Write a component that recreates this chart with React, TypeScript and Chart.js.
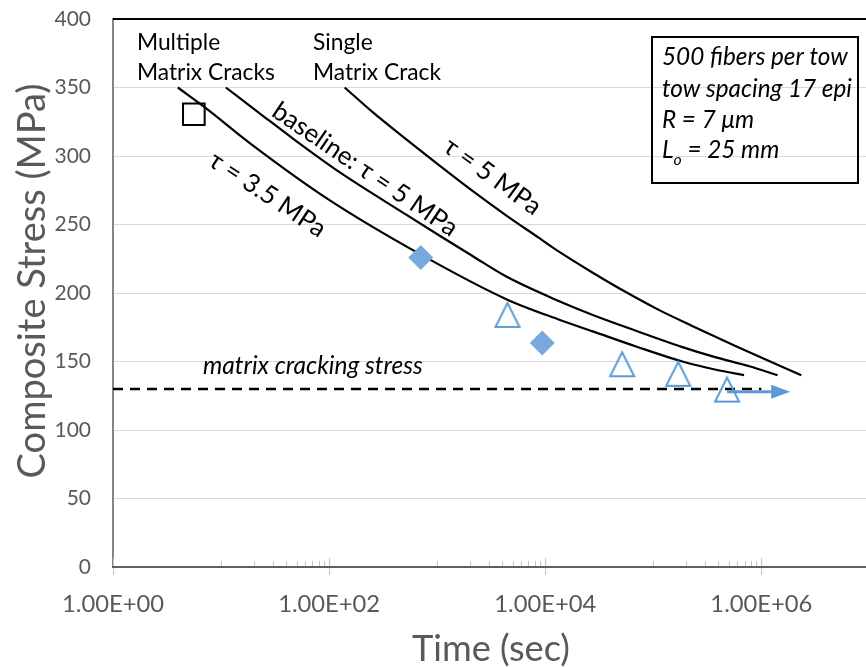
import React, { useEffect, useRef } from "react";
import { Chart, registerables } from "chart.js";

Chart.register(...registerables);

const FAMILY = "Lato, 'Open Sans', 'DejaVu Sans', sans-serif";
const TEXT_GRAY = "#595959";
const BLUE = "#5B9BD5";
const BLUE_FILL = "#79A9DC";

// ---------- data (time in s, stress in MPa) ----------
const multiTau35Time = [3.98, 7.08, 19.5, 100, 708, 4365, 13490, 27540, 69180, 186200, 380200, 691800];
const multiTau35Stress = [350, 335.5, 308, 268, 228, 195.5, 180.5, 172, 161, 150, 144, 140];

const baselineTime = [11.07, 22.9, 45.7, 125.9, 521, 1047, 2123, 4365, 13490, 27540, 56230, 186200, 380200, 776200, 1413000];
const baselineStress = [350, 331, 313, 288, 257, 242, 227, 212, 194, 184, 175, 160.5, 153, 146.5, 140];

const singleTime = [139.3, 252.9, 521, 1052, 2123, 4375, 8831, 13520, 27290, 56230, 113500, 229100, 588800, 2344000];
const singleStress = [350, 332, 312, 293, 274.5, 256.5, 240, 230, 215, 200.5, 187.5, 176, 161, 140];

const squareTime = [5.6];
const squareStress = [330.5];

const diamondTime = [705, 9380];
const diamondStress = [226, 163.5];

const triangleTime = [4470, 51500, 170000, 481000];
const triangleStress = [184, 148, 141, 129.5];

const arrowTime = [481000, 1260000];
const arrowStress = [128, 128];

const crackingTime = [1, 1000000];
const crackingStress = [130, 130];

// ---------- axes ----------
const X_MIN = 1;
const X_MAX = 9.3e6;
const X_MAJOR = [1, 100, 10000, 1000000];
const X_MAJOR_LABELS = ["1.00E+00", "1.00E+02", "1.00E+04", "1.00E+06"];
const X_MINOR_BASES = [10, 1000, 100000];
const X_MINOR_STEPS = [1, 2, 3, 4, 5, 6, 7, 8, 9];
const Y_MIN = 0;
const Y_MAX = 400;
const Y_STEP = 50;

const X_TITLE = "Time (sec)";
const Y_TITLE = "Composite Stress (MPa)";

const NOTE_LINES = ["500 fibers per tow", "tow spacing 17 epi", "R = 7 μm"];

export default function App() {
  const ref = useRef<HTMLCanvasElement>(null);

  useEffect(() => {
    document.body.style.margin = "0";
    const canvas = ref.current!;
    const mctx = canvas.getContext("2d")!;
    const fit = (text: string, width: number, style = "") => {
      mctx.font = `${style} 100px ${FAMILY}`.trim();
      return (100 * width) / mctx.measureText(text).width;
    };
    const S = {
      yTick: fit("400", 36.5),
      xTick: fit("1.00E+02", 102),
      yTitle: fit(Y_TITLE, 395),
      xTitle: fit(X_TITLE, 158),
      note: fit("Matrix Cracks", 138),
      rot: fit("baseline: τ = 5 MPa", 218),
      box: fit("tow spacing 17 epi", 190, "italic"),
      crack: fit("matrix cracking stress", 220, "italic"),
    };

    const tri = document.createElement("canvas");
    tri.width = 30;
    tri.height = 30;
    const tc = tri.getContext("2d")!;
    tc.strokeStyle = BLUE;
    tc.lineWidth = 2;
    tc.beginPath();
    tc.moveTo(15, 3);
    tc.lineTo(27, 27);
    tc.lineTo(3, 27);
    tc.closePath();
    tc.stroke();

    const pts = (xs: number[], ys: number[]) => xs.map((x, i) => ({ x, y: ys[i] }));

    const curve = (label: string, xs: number[], ys: number[]) => ({
      label,
      data: pts(xs, ys),
      showLine: true,
      borderColor: "#000",
      borderWidth: 2.2,
      pointRadius: 0,
      cubicInterpolationMode: "monotone" as const,
      fill: false,
    });

    const noPad = (s: any) => {
      s.paddingTop = 0;
      s.paddingBottom = 0;
      s.paddingLeft = 0;
      s.paddingRight = 0;
    };

    const overlay = {
      id: "overlay",
      afterDatasetsDraw(chart: any) {
        const { ctx } = chart;
        const meta = chart.getDatasetMeta(3);
        const last = meta.data[meta.data.length - 1];
        if (last) {
          ctx.save();
          ctx.fillStyle = BLUE;
          ctx.beginPath();
          ctx.moveTo(last.x - 1, last.y - 7);
          ctx.lineTo(last.x + 18, last.y);
          ctx.lineTo(last.x - 1, last.y + 7);
          ctx.closePath();
          ctx.fill();
          ctx.restore();
        }
      },
      afterDraw(chart: any) {
        const { ctx, chartArea: ca, scales } = chart;
        const xs = scales.x;
        ctx.save();
        // top border
        ctx.strokeStyle = "#000";
        ctx.lineWidth = 2;
        ctx.beginPath();
        ctx.moveTo(ca.left, ca.top);
        ctx.lineTo(ca.right, ca.top);
        ctx.stroke();

        // x ticks
        ctx.strokeStyle = "#C4C4C4";
        ctx.lineWidth = 1;
        X_MAJOR.forEach((v) => {
          const px = Math.round(xs.getPixelForValue(v)) + 0.5;
          ctx.beginPath();
          ctx.moveTo(px, ca.bottom - 9);
          ctx.lineTo(px, ca.bottom + 8);
          ctx.stroke();
        });
        X_MINOR_BASES.forEach((b) =>
          X_MINOR_STEPS.forEach((k) => {
            const px = Math.round(xs.getPixelForValue(b * k)) + 0.5;
            ctx.beginPath();
            ctx.moveTo(px, ca.bottom - 6);
            ctx.lineTo(px, ca.bottom);
            ctx.stroke();
          })
        );
        // x axis line
        ctx.strokeStyle = "#606060";
        ctx.lineWidth = 2;
        ctx.beginPath();
        ctx.moveTo(ca.left - 1, ca.bottom);
        ctx.lineTo(ca.right, ca.bottom);
        ctx.stroke();

        // x tick labels
        ctx.fillStyle = TEXT_GRAY;
        ctx.font = `${S.xTick}px ${FAMILY}`;
        ctx.textAlign = "center";
        ctx.textBaseline = "alphabetic";
        X_MAJOR.forEach((v, i) => {
          ctx.fillText(X_MAJOR_LABELS[i], xs.getPixelForValue(v), 612);
        });

        // axis titles
        ctx.font = `${S.xTitle}px ${FAMILY}`;
        ctx.fillText(X_TITLE, 491, 661);
        ctx.save();
        ctx.translate(45, 281);
        ctx.rotate(-Math.PI / 2);
        ctx.font = `${S.yTitle}px ${FAMILY}`;
        ctx.fillText(Y_TITLE, 0, 0);
        ctx.restore();

        // annotations
        ctx.fillStyle = "#000";
        ctx.textAlign = "left";
        ctx.font = `${S.note}px ${FAMILY}`;
        ctx.fillText("Multiple", 137, 50);
        ctx.fillText("Matrix Cracks", 137, 80);
        ctx.fillText("Single", 313, 50);
        ctx.fillText("Matrix Crack", 313, 80);

        const rotText = (t: string, x: number, y: number, deg: number) => {
          ctx.save();
          ctx.translate(x, y);
          ctx.rotate((deg * Math.PI) / 180);
          ctx.font = `${S.rot}px ${FAMILY}`;
          ctx.textAlign = "center";
          ctx.textBaseline = "middle";
          ctx.fillText(t, 0, 0);
          ctx.restore();
        };
        rotText("τ = 3.5 MPa", 267.5, 194.5, 33.3);
        rotText("baseline: τ = 5 MPa", 365, 169.5, 34.1);
        rotText("τ = 5 MPa", 492.5, 176.5, 35.8);

        ctx.font = `italic ${S.crack}px ${FAMILY}`;
        ctx.fillText("matrix cracking stress", 203, 374);

        // note box
        ctx.strokeStyle = "#000";
        ctx.lineWidth = 2;
        ctx.strokeRect(652, 37, 206, 146);
        ctx.font = `italic ${S.box}px ${FAMILY}`;
        const baselines = [65, 97, 128];
        NOTE_LINES.forEach((t, i) => ctx.fillText(t, 662, baselines[i]));
        ctx.fillText("L", 662, 158);
        const lw = ctx.measureText("L").width;
        ctx.font = `italic ${S.box * 0.65}px ${FAMILY}`;
        ctx.fillText("o", 662 + lw, 165);
        const ow = ctx.measureText("o").width;
        ctx.font = `italic ${S.box}px ${FAMILY}`;
        ctx.fillText(" = 25 mm", 662 + lw + ow, 158);
        ctx.restore();
      },
    };

    const chart = new Chart(canvas, {
      type: "line",
      data: {
        datasets: [
          {
            label: "square",
            data: pts(squareTime, squareStress),
            showLine: false,
            pointStyle: "rect",
            pointRadius: 15.3,
            borderColor: "#000",
            borderWidth: 2,
            backgroundColor: "rgba(0,0,0,0)",
          },
          {
            label: "diamonds",
            data: pts(diamondTime, diamondStress),
            showLine: false,
            pointStyle: "rectRot",
            pointRadius: 12.5,
            borderWidth: 0,
            borderColor: BLUE_FILL,
            backgroundColor: BLUE_FILL,
          },
          {
            label: "triangles",
            data: pts(triangleTime, triangleStress),
            showLine: false,
            pointStyle: tri as any,
            pointRadius: 12,
          },
          {
            label: "arrow",
            data: pts(arrowTime, arrowStress),
            showLine: true,
            borderColor: BLUE,
            borderWidth: 3,
            pointRadius: 0,
          },
          curve("τ = 3.5 MPa", multiTau35Time, multiTau35Stress),
          curve("baseline: τ = 5 MPa", baselineTime, baselineStress),
          curve("single crack τ = 5 MPa", singleTime, singleStress),
          {
            label: "matrix cracking stress",
            data: pts(crackingTime, crackingStress),
            showLine: true,
            borderColor: "#000",
            borderWidth: 2.5,
            borderDash: [10, 7],
            pointRadius: 0,
          },
        ] as any,
      },
      options: {
        responsive: false,
        animation: false,
        devicePixelRatio: 1,
        events: [],
        layout: { autoPadding: false, padding: { top: 19, right: 0, left: 0, bottom: 0 } },
        plugins: { legend: { display: false }, tooltip: { enabled: false } },
        scales: {
          x: {
            type: "logarithmic",
            min: X_MIN,
            max: X_MAX,
            afterFit: (s: any) => {
              s.height = 100;
              noPad(s);
            },
            ticks: { display: false },
            grid: { display: false },
            border: { display: false },
          },
          y: {
            min: Y_MIN,
            max: Y_MAX,
            afterFit: (s: any) => {
              s.width = 113;
              noPad(s);
            },
            ticks: {
              stepSize: Y_STEP,
              color: TEXT_GRAY,
              font: { family: FAMILY, size: S.yTick },
              padding: 22,
            },
            grid: { color: "#D9D9D9", lineWidth: 1, drawTicks: false },
            border: { color: "#858585", width: 2 },
          },
        },
      } as any,
      plugins: [overlay],
    });

    return () => chart.destroy();
  }, []);

  return (
    <div style={{ position: "absolute", left: 0, top: 0, width: 866, height: 667 }}>
      <canvas ref={ref} width={866} height={667} style={{ display: "block", width: 866, height: 667 }} />
    </div>
  );
}
